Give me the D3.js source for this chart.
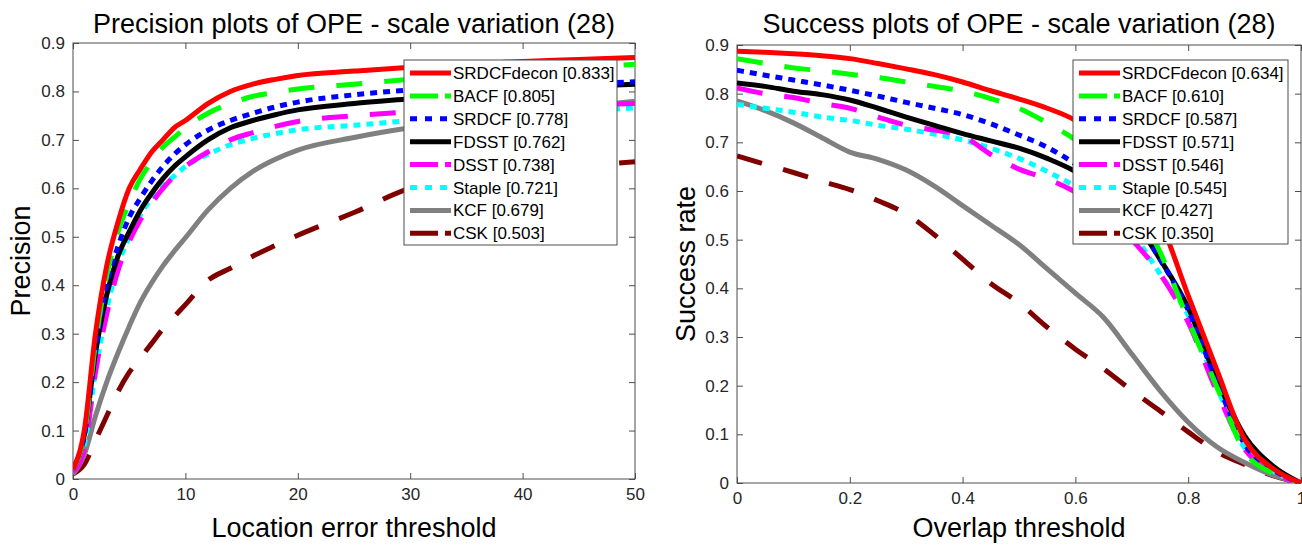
<!DOCTYPE html>
<html>
<head>
<meta charset="utf-8">
<script src="https://cdn.jsdelivr.net/npm/d3@7"></script>
<style>
  html, body { margin: 0; padding: 0; background: #fff; }
  svg { display: block; font-family: "Liberation Sans", Arial, Helvetica, sans-serif; }
</style>
</head>
<body>
<svg id="chart" width="1302" height="545"></svg>
<script>
// ---- data ----------------------------------------------------------------
const trackers = ["SRDCFdecon", "BACF", "SRDCF", "FDSST", "DSST", "Staple", "KCF", "CSK"];
const precisionScores = [0.833, 0.805, 0.778, 0.762, 0.738, 0.721, 0.679, 0.503];
const successScores = [0.634, 0.610, 0.587, 0.571, 0.546, 0.545, 0.427, 0.350];
const lineColors = ["#ff0000", "#00ff00", "#0000ff", "#000000", "#ff00ff", "#00ffff", "#808080", "#800000"];
const lineStyles = ["solid", "dash", "dot", "solid", "dash", "dot", "solid", "dash"];

// location error thresholds (pixels)
const errorThresholds = [0, 1, 2, 3, 4, 5, 6, 7, 8, 9, 10, 12, 14, 16, 18, 20, 25, 30, 35, 40, 45, 50];
const precisionSRDCFdecon = [0.02, 0.10, 0.30, 0.44, 0.53, 0.60, 0.64, 0.675, 0.70, 0.725, 0.74, 0.775, 0.80, 0.815, 0.825, 0.833, 0.842, 0.85, 0.856, 0.862, 0.866, 0.87];
const precisionBACF = [0.02, 0.09, 0.28, 0.42, 0.51, 0.57, 0.62, 0.655, 0.685, 0.705, 0.725, 0.755, 0.775, 0.79, 0.798, 0.805, 0.815, 0.825, 0.835, 0.843, 0.85, 0.856];
const precisionSRDCF = [0.02, 0.09, 0.27, 0.40, 0.48, 0.54, 0.58, 0.615, 0.645, 0.67, 0.69, 0.72, 0.74, 0.755, 0.768, 0.778, 0.793, 0.803, 0.808, 0.812, 0.816, 0.82];
const precisionFDSST = [0.02, 0.09, 0.26, 0.38, 0.46, 0.51, 0.555, 0.59, 0.62, 0.645, 0.665, 0.70, 0.725, 0.74, 0.752, 0.762, 0.775, 0.785, 0.795, 0.803, 0.81, 0.815];
const precisionDSST = [0.015, 0.06, 0.22, 0.34, 0.43, 0.49, 0.535, 0.57, 0.60, 0.625, 0.645, 0.675, 0.70, 0.715, 0.728, 0.738, 0.75, 0.758, 0.763, 0.768, 0.772, 0.775];
const precisionStaple = [0.02, 0.07, 0.22, 0.35, 0.44, 0.50, 0.545, 0.58, 0.605, 0.625, 0.645, 0.67, 0.69, 0.703, 0.713, 0.721, 0.73, 0.74, 0.748, 0.755, 0.76, 0.766];
const precisionKCF = [0.01, 0.05, 0.13, 0.20, 0.26, 0.315, 0.365, 0.405, 0.44, 0.47, 0.498, 0.555, 0.60, 0.635, 0.66, 0.679, 0.705, 0.725, 0.74, 0.755, 0.768, 0.78];
const precisionCSK = [0.01, 0.03, 0.08, 0.13, 0.18, 0.22, 0.25, 0.28, 0.31, 0.335, 0.36, 0.41, 0.435, 0.46, 0.482, 0.503, 0.55, 0.60, 0.62, 0.635, 0.645, 0.655];

// overlap thresholds
const overlapThresholds = [0, 0.05, 0.1, 0.15, 0.2, 0.25, 0.3, 0.35, 0.4, 0.45, 0.5, 0.55, 0.6, 0.65, 0.7, 0.75, 0.8, 0.85, 0.9, 0.95, 1];
const successSRDCFdecon = [0.887, 0.885, 0.882, 0.878, 0.872, 0.862, 0.851, 0.839, 0.824, 0.806, 0.789, 0.77, 0.745, 0.70, 0.64, 0.54, 0.385, 0.235, 0.09, 0.03, 0];
const successBACF = [0.872, 0.862, 0.853, 0.847, 0.84, 0.833, 0.824, 0.815, 0.805, 0.79, 0.77, 0.74, 0.705, 0.655, 0.585, 0.475, 0.335, 0.20, 0.065, 0.02, 0];
const successSRDCF = [0.848, 0.838, 0.828, 0.818, 0.807, 0.795, 0.782, 0.77, 0.757, 0.738, 0.715, 0.69, 0.655, 0.61, 0.55, 0.46, 0.355, 0.21, 0.08, 0.028, 0];
const successFDSST = [0.822, 0.815, 0.805, 0.798, 0.787, 0.77, 0.752, 0.735, 0.718, 0.703, 0.688, 0.667, 0.64, 0.60, 0.545, 0.46, 0.36, 0.215, 0.097, 0.035, 0];
const successDSST = [0.812, 0.80, 0.792, 0.78, 0.77, 0.752, 0.735, 0.725, 0.713, 0.675, 0.645, 0.625, 0.598, 0.56, 0.50, 0.43, 0.33, 0.19, 0.07, 0.022, 0];
const successStaple = [0.778, 0.77, 0.762, 0.752, 0.745, 0.735, 0.727, 0.717, 0.705, 0.688, 0.667, 0.64, 0.61, 0.575, 0.515, 0.43, 0.345, 0.20, 0.072, 0.025, 0];
const successKCF = [0.785, 0.765, 0.74, 0.71, 0.68, 0.665, 0.643, 0.61, 0.57, 0.53, 0.49, 0.44, 0.39, 0.34, 0.265, 0.19, 0.125, 0.075, 0.042, 0.016, 0];
const successCSK = [0.672, 0.655, 0.638, 0.62, 0.603, 0.58, 0.553, 0.51, 0.46, 0.41, 0.37, 0.32, 0.275, 0.235, 0.19, 0.148, 0.105, 0.065, 0.038, 0.015, 0];

const yTicks = [0, 0.1, 0.2, 0.3, 0.4, 0.5, 0.6, 0.7, 0.8, 0.9];
const precisionXTicks = [0, 10, 20, 30, 40, 50];
const successXTicks = [0, 0.2, 0.4, 0.6, 0.8, 1];

const precisionSeries = [precisionSRDCFdecon, precisionBACF, precisionSRDCF, precisionFDSST,
                         precisionDSST, precisionStaple, precisionKCF, precisionCSK];
const successSeries = [successSRDCFdecon, successBACF, successSRDCF, successFDSST,
                       successDSST, successStaple, successKCF, successCSK];

// ---- drawing -------------------------------------------------------------
const svg = d3.select("#chart");
const axisColor = "#4d4d4d";
const textColor = "#262626";
const curveDash = { solid: null, dash: "26,22", dot: "7,6" };
const legendDash = { solid: null, dash: "28,7", dot: "7,8" };

function drawPanel(cfg) {
  const { left, right, top, bottom } = cfg.box;
  const x = d3.scaleLinear().domain(cfg.xDomain).range([left, right]);
  const y = d3.scaleLinear().domain([0, 0.9]).range([bottom, top]);
  const g = svg.append("g");

  const clipId = "clip-" + cfg.id;
  svg.append("clipPath").attr("id", clipId)
    .append("rect").attr("x", left).attr("y", top)
    .attr("width", right - left).attr("height", bottom - top);

  // ticks on all four sides, pointing inwards
  const tickLen = 6;
  const axB = d3.axisBottom(x).tickValues(cfg.xTicks).tickSize(-tickLen).tickPadding(9).tickFormat(cfg.xFormat);
  const axT = d3.axisTop(x).tickValues(cfg.xTicks).tickSize(-tickLen).tickFormat("");
  const axL = d3.axisLeft(y).tickValues(yTicks).tickSize(-tickLen).tickPadding(8).tickFormat(d3.format("~g"));
  const axR = d3.axisRight(y).tickValues(yTicks).tickSize(-tickLen).tickFormat("");

  const styleAxis = sel => {
    sel.select(".domain").remove();
    sel.selectAll(".tick line").attr("stroke", axisColor).attr("stroke-width", 1);
    sel.selectAll(".tick text").attr("fill", textColor)
      .style("font-size", "17px").style("font-family", "'Liberation Sans', Arial, sans-serif");
  };
  g.append("g").attr("transform", `translate(0,${bottom})`).call(axB).call(styleAxis);
  g.append("g").attr("transform", `translate(0,${top})`).call(axT).call(styleAxis);
  g.append("g").attr("transform", `translate(${left},0)`).call(axL).call(styleAxis);
  g.append("g").attr("transform", `translate(${right},0)`).call(axR).call(styleAxis);

  g.append("rect").attr("x", left).attr("y", top)
    .attr("width", right - left).attr("height", bottom - top)
    .attr("fill", "none").attr("stroke", axisColor).attr("stroke-width", 1);

  // curves, lowest-ranked drawn first so the leaders sit on top
  const line = d3.line().x(d => x(d[0])).y(d => y(d[1])).curve(d3.curveMonotoneX);
  const curves = g.append("g").attr("clip-path", `url(#${clipId})`);
  for (let i = cfg.series.length - 1; i >= 0; i--) {
    const pts = cfg.xs.map((xv, k) => [xv, cfg.series[i][k]]);
    curves.append("path")
      .attr("d", line(pts))
      .attr("fill", "none")
      .attr("stroke", lineColors[i])
      .attr("stroke-width", 5)
      .attr("stroke-linecap", "butt")
      .attr("stroke-linejoin", "round")
      .attr("stroke-dasharray", curveDash[lineStyles[i]]);
  }

  // title and axis labels
  svg.append("text").attr("x", (left + right) / 2).attr("y", 33)
    .attr("text-anchor", "middle").attr("fill", "#000")
    .style("font-size", "27px").text(cfg.title);
  svg.append("text").attr("x", (left + right) / 2).attr("y", 537)
    .attr("text-anchor", "middle").attr("fill", "#000")
    .style("font-size", "27px").text(cfg.xLabel);
  svg.append("text")
    .attr("transform", `translate(${cfg.yLabelX},${(top + bottom) / 2}) rotate(-90)`)
    .attr("text-anchor", "middle").attr("fill", "#000")
    .style("font-size", "27px").text(cfg.yLabel);

  // legend
  const L = cfg.legend;
  const lg = svg.append("g");
  lg.append("rect").attr("x", L.x).attr("y", L.y).attr("width", L.w).attr("height", L.h)
    .attr("fill", "#fff").attr("stroke", axisColor).attr("stroke-width", 1);
  trackers.forEach((name, i) => {
    const cy = L.y + 13 + i * 22.9;
    lg.append("line")
      .attr("x1", L.x + 6).attr("x2", L.x + 47).attr("y1", cy).attr("y2", cy)
      .attr("stroke", lineColors[i]).attr("stroke-width", 5)
      .attr("stroke-dasharray", legendDash[lineStyles[i]]);
    lg.append("text").attr("x", L.x + 49).attr("y", cy + 6)
      .attr("fill", "#000").style("font-size", "17px")
      .text(`${name} [${cfg.scores[i].toFixed(3)}]`);
  });
}

drawPanel({
  id: "precision",
  box: { left: 73, right: 635, top: 43, bottom: 479 },
  xDomain: [0, 50], xTicks: precisionXTicks, xFormat: d3.format("d"),
  xs: errorThresholds, series: precisionSeries, scores: precisionScores,
  title: "Precision plots of OPE - scale variation (28)",
  xLabel: "Location error threshold", yLabel: "Precision", yLabelX: 30,
  legend: { x: 404, y: 60, w: 213, h: 185 }
});

drawPanel({
  id: "success",
  box: { left: 737, right: 1301, top: 45, bottom: 483 },
  xDomain: [0, 1], xTicks: successXTicks, xFormat: d3.format("~g"),
  xs: overlapThresholds, series: successSeries, scores: successScores,
  title: "Success plots of OPE - scale variation (28)",
  xLabel: "Overlap threshold", yLabel: "Success rate", yLabelX: 695,
  legend: { x: 1073, y: 60, w: 215, h: 184 }
});
</script>
</body>
</html>
